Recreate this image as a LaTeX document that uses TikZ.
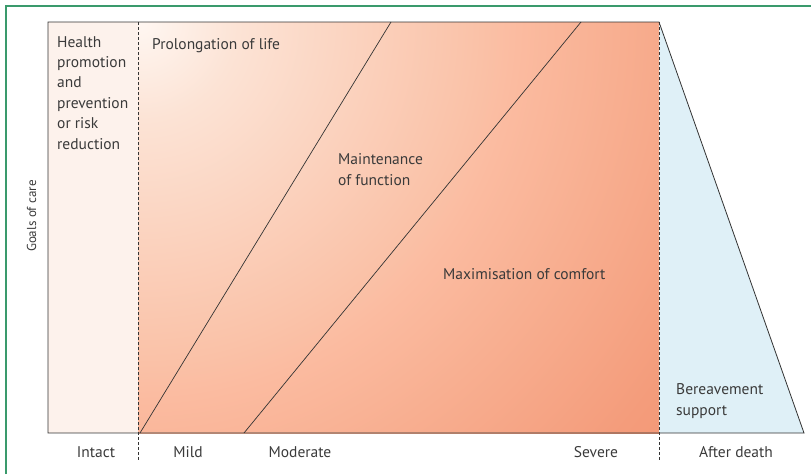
\documentclass[tikz,border=0pt]{standalone}
\usepackage{fontspec}
\setmainfont{PT Sans}
\definecolor{frame}{HTML}{3A9A6C}
\definecolor{ink}{HTML}{333333}
\definecolor{txt}{HTML}{3A3A3A}
\definecolor{intact}{HTML}{FDF2EC}
\definecolor{grief}{HTML}{DFF0F7}
\definecolor{care0}{HTML}{FFF7F2}
\definecolor{care1}{HTML}{FCE3D5}
\definecolor{care2}{HTML}{FAC2A8}
\definecolor{care3}{HTML}{FBBBA0}
\definecolor{care4}{HTML}{F8AF91}
\definecolor{care5}{HTML}{F49C7B}
\definecolor{care6}{HTML}{F39775}
% circle radius 700pt ends at 25bp
\pgfdeclareradialshading{care}{\pgfpoint{0bp}{0bp}}{%
  color(0bp)=(care0); color(3.5bp)=(care1); color(12bp)=(care2);
  color(13.5bp)=(care3); color(17bp)=(care4); color(22.5bp)=(care5);
  color(25bp)=(care6); color(50bp)=(care6)}
\tikzset{
  lbl/.style={font=\fontsize{15.5}{20.4}\selectfont, text=txt, inner sep=0pt, align=left},
  edge/.style={ink, line width=0.8pt},
  stage/.style={ink, line width=0.6pt, dash pattern=on 3pt off 2pt}
}
\begin{document}
\begin{tikzpicture}[x=1pt,y=-1pt]
  \useasboundingbox (0,0) rectangle (811,474);
  % corners of the chart
  \coordinate (tl) at (48,22);
  \coordinate (bl) at (48,433);
  \coordinate (ml) at (138,22);
  \coordinate (mr) at (659,22);
  \coordinate (br) at (804,433);
  \coordinate (bm) at (659,433);
  % green frame
  \draw[frame, line width=1.5pt] (6,474) -- (6,6) -- (811,6);
  % fills: intact, disease (shaded), after death
  \fill[intact] (tl) rectangle (138,433);
  \begin{scope}
    \clip (ml) rectangle (bm);
    \shade[shading=care] (140,22) circle (700pt);
  \end{scope}
  \fill[grief] (mr) -- (br) -- (bm) -- cycle;
  % outline
  \draw[edge] (bl) -- (tl) -- (mr) -- (br) -- cycle;
  % boundaries between goals
  \draw[ink, line width=0.7pt] (140,433) -- (391,22);
  \draw[ink, line width=0.7pt] (244,433) -- (581,22);
  % stage separators
  \draw[stage] (ml) -- (138,461);
  \draw[stage] (mr) -- (659,461);
  % goals (multi-line nodes sit on their last line)
  \node[lbl, anchor=base west] (health) at (57,149) {Health\\promotion\\and\\prevention\\or risk\\reduction};
  \node[lbl, anchor=base west] (life) at (152,49) {Prolongation of life};
  \node[lbl, anchor=base west] (function) at (338,185) {Maintenance\\of function};
  \node[lbl, anchor=base west] (comfort) at (443,279) {Maximisation of comfort};
  \node[lbl, anchor=base west] (grief) at (676,415) {Bereavement\\support};
  \node[lbl, font=\fontsize{13}{16}\selectfont, anchor=base, rotate=90] (goals) at (36,216) {Goals of care};
  % stages
  \node[lbl, anchor=base] (intact) at (96,457) {Intact};
  \node[lbl, anchor=base] (mild) at (188,457) {Mild};
  \node[lbl, anchor=base] (moderate) at (300,457) {Moderate};
  \node[lbl, anchor=base] (severe) at (596,457) {Severe};
  \node[lbl, anchor=base] (death) at (736,457) {After death};
\end{tikzpicture}
\end{document}
